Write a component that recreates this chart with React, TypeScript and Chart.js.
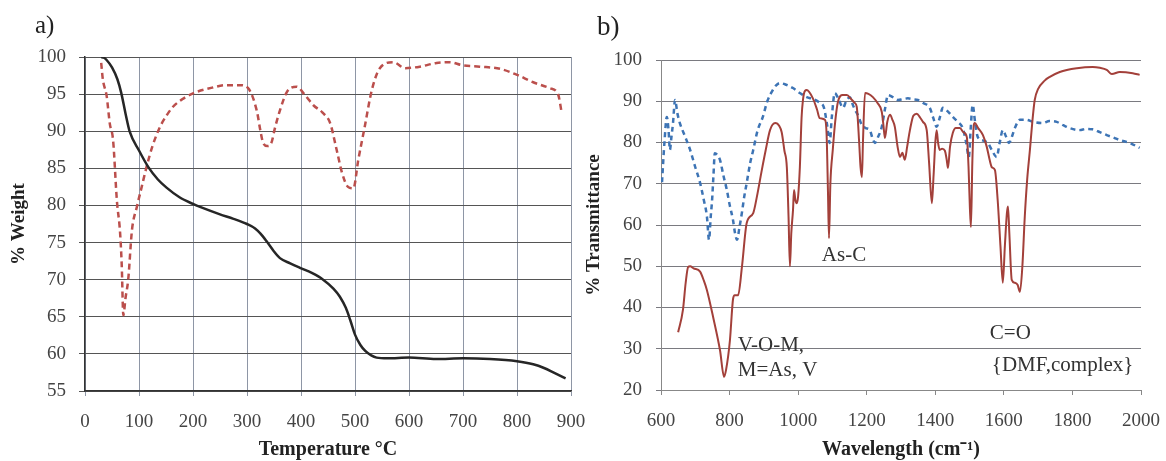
import React, { useEffect, useRef } from "react";
import { Chart, registerables } from "chart.js";
Chart.register(...registerables);

// ---------- Data: panel a) TGA ----------
const tempTicks = [0, 100, 200, 300, 400, 500, 600, 700, 800, 900];
const weightTicks = [55, 60, 65, 70, 75, 80, 85, 90, 95, 100];

const tgaTemp = [30, 35, 40, 50, 60, 67, 75, 83, 100, 117, 135, 151, 175, 200, 213, 250, 275, 300, 315, 325, 337, 350, 361, 380, 398, 420, 441, 460, 472, 483, 491, 500, 510, 519, 530, 540, 560, 600, 650, 700, 750, 800, 830, 850, 870, 890];
const tgaWeight = [100, 99.9, 99.6, 98.6, 97, 95.2, 92.4, 89.9, 87.4, 85.2, 83.5, 82.4, 81.1, 80.2, 79.8, 78.8, 78.2, 77.5, 76.9, 76.2, 75.1, 73.8, 72.9, 72.2, 71.6, 70.9, 70, 68.8, 67.7, 66.2, 64.6, 62.6, 61.2, 60.4, 59.8, 59.5, 59.4, 59.5, 59.3, 59.4, 59.3, 59.0, 58.6, 58.1, 57.4, 56.7];

const dtgTemp = [30, 33, 40, 46, 52, 59, 65, 68, 71, 75, 80, 87, 96, 105, 114, 125, 139, 150, 163, 180, 200, 237, 260, 287, 302, 318, 325, 330, 338, 345, 352, 361, 374, 392, 407, 423, 440, 454, 466, 476, 487, 497, 506, 518, 531, 546, 571, 593, 620, 651, 676, 698, 731, 769, 800, 830, 861, 876, 883];
const dtgValue = [99.2, 97, 94.8, 91, 88.8, 80.7, 76.3, 72, 65.2, 67.5, 70, 76.7, 79.8, 82.5, 85.2, 88, 90.6, 92, 93.3, 94.3, 95.1, 95.9, 96.2, 96.2, 95.8, 92.8, 90, 88.4, 88, 88.4, 90.5, 92.8, 95.3, 96, 94.9, 93.5, 92.5, 91.1, 87.5, 84.4, 82.5, 82.3, 86.1, 90.6, 95.5, 98.5, 99.3, 98.5, 98.7, 99.2, 99.3, 98.9, 98.7, 98.4, 97.6, 96.6, 95.8, 95, 92.4];

// ---------- Data: panel b) IR ----------
const wnTicks = [600, 800, 1000, 1200, 1400, 1600, 1800, 2000];
const transTicks = [20, 30, 40, 50, 60, 70, 80, 90, 100];

const irSampleWn = [650, 664, 672, 679, 685, 695, 714, 725, 734, 752, 772, 784, 790, 801, 810, 815, 825, 836, 850, 869, 880, 894, 905, 918, 933, 945, 952, 960, 967, 972, 976, 980, 985, 988, 992, 996, 1000, 1005, 1010, 1014, 1020, 1025, 1043, 1055, 1063, 1078, 1083, 1087, 1090, 1094, 1101, 1108, 1116, 1130, 1142, 1155, 1165, 1171, 1178, 1182, 1186, 1189, 1195, 1205, 1218, 1232, 1244, 1249, 1253, 1260, 1268, 1275, 1282, 1290, 1297, 1304, 1311, 1318, 1326, 1336, 1346, 1356, 1364, 1375, 1382, 1390, 1395, 1400, 1404, 1408, 1413, 1420, 1428, 1433, 1437, 1443, 1451, 1460, 1472, 1482, 1492, 1497, 1501, 1504, 1508, 1512, 1515, 1525, 1539, 1550, 1558, 1565, 1574, 1582, 1590, 1597, 1603, 1609, 1612, 1616, 1623, 1632, 1640, 1647, 1654, 1661, 1668, 1676, 1683, 1690, 1700, 1719, 1734, 1763, 1813, 1859, 1880, 1900, 1915, 1938, 1976, 1996];
const irSampleT = [34, 39.4, 46, 49.8, 50, 49.5, 48.7, 46.5, 44.2, 37.7, 29.7, 23.2, 25, 32, 42, 43, 43, 49.8, 60.5, 62.9, 67, 73.3, 78, 83, 84.7, 84, 82.5, 78, 74, 62, 50, 58, 63.6, 68.5, 66, 65.3, 67, 74, 86, 90.3, 92.5, 92.7, 90.7, 88, 85.9, 85.5, 82, 68, 56.8, 70, 78.2, 85, 89.8, 91.5, 91.5, 90.5, 89.6, 88.6, 80, 74, 71.6, 80, 92, 91.8, 91, 89.5, 87.4, 84, 81.1, 85, 86.7, 85.5, 83.8, 79, 76.5, 77.5, 75.8, 79, 83, 86.5, 87, 86, 85, 83, 75, 65.3, 72, 80, 83, 80, 78.2, 78.5, 78, 76, 73.8, 79, 82.3, 83.5, 83.5, 82.5, 81.3, 74, 64, 59.5, 75, 84, 84.7, 83.5, 81.8, 79, 76, 74, 73.3, 66, 55, 46, 55, 63, 64.5, 58, 46.7, 46, 45.5, 43.8, 50, 62, 71, 78.2, 85, 90.3, 93, 95, 95.9, 97.1, 98, 98.3, 98.1, 97.6, 96.6, 97.1, 96.8, 96.4];

const irRefWn = [603, 610, 617, 622, 626, 630, 635, 641, 648, 655, 670, 685, 700, 714, 725, 734, 740, 745, 749, 753, 757, 764, 772, 782, 792, 800, 810, 816, 822, 828, 836, 843, 850, 860, 869, 882, 897, 910, 926, 935, 947, 965, 985, 1005, 1025, 1045, 1063, 1075, 1085, 1092, 1098, 1107, 1118, 1131, 1140, 1151, 1160, 1166, 1174, 1186, 1197, 1209, 1217, 1224, 1234, 1244, 1253, 1262, 1276, 1291, 1305, 1320, 1335, 1349, 1366, 1384, 1394, 1404, 1413, 1422, 1437, 1451, 1466, 1480, 1490, 1498, 1503, 1509, 1516, 1524, 1538, 1553, 1566, 1579, 1588, 1597, 1606, 1615, 1624, 1632, 1647, 1665, 1685, 1713, 1733, 1754, 1773, 1792, 1821, 1840, 1859, 1880, 1900, 1920, 1938, 1967, 1996];
const irRefT = [70.4, 80, 86.2, 83, 78.2, 81, 84.7, 90.3, 87, 84.7, 81.5, 78.2, 74, 70.2, 66, 62, 56.4, 62, 66, 72, 77.4, 77, 75.8, 72, 68.5, 65, 61.2, 58, 56.4, 59, 63, 67, 70.2, 75, 78.2, 83, 86.2, 90, 92.7, 93.8, 94.4, 94, 93.2, 92, 91, 90.5, 89.6, 88.5, 84, 79.9, 86, 92, 90.5, 88.4, 90, 91, 89, 87.9, 86.7, 84.2, 83.5, 83, 81, 79.9, 81.5, 83.8, 88, 91.5, 91, 90.3, 90.5, 90.7, 90.5, 90.3, 89.5, 88.4, 86, 83.8, 86, 88.4, 87.5, 86.2, 85, 83.5, 80, 76.5, 83, 89.1, 85, 81.3, 80.5, 79.9, 78, 76.5, 80, 83, 81.5, 79.9, 81.5, 83.5, 85.5, 85.5, 85, 84.7, 85.2, 85, 84.2, 83.5, 83, 83.3, 83.2, 82.5, 81.8, 81.2, 80.6, 79.9, 78.7];

const irLabelText = ["As-C", "V-O-M,", "M=As, V", "C=O", "{DMF,complex}"];
const irLabelWn = [1069, 824, 824, 1559, 1565];
const irLabelT = [52.7, 30.9, 24.8, 33.8, 26];

// ---------- helpers ----------
const SERIF = "'Liberation Serif', 'Times New Roman', serif";

const pts = (xs: number[], ys: number[]) => xs.map((x, i) => ({ x, y: ys[i] }));
const fixedTicks = (vals: number[]) => (scale: any) => {
  scale.ticks = vals.map((v) => ({ value: v }));
};
const plainLabel = (v: any) => String(v);

const irLabelPlugin = {
  id: "irLabels",
  afterDatasetsDraw(chart: any) {
    const { ctx, scales } = chart;
    ctx.save();
    ctx.font = `21px ${SERIF}`;
    ctx.fillStyle = "#333";
    ctx.textAlign = "left";
    ctx.textBaseline = "middle";
    irLabelText.forEach((t, i) => {
      ctx.fillText(t, scales.x.getPixelForValue(irLabelWn[i]), scales.y.getPixelForValue(irLabelT[i]));
    });
    ctx.restore();
  },
};

// x tick labels: small padding (so label padding does not shrink the plot),
// vertical placement via tall line height
const xTickOpts = {
  font: { family: SERIF, size: 19, lineHeight: 2.5 },
  color: "#444",
  padding: 2,
  maxRotation: 0,
  autoSkip: false,
  callback: plainLabel,
};

function configA(): any {
  return {
    type: "line",
    data: {
      datasets: [
        {
          data: pts(tgaTemp, tgaWeight),
          borderColor: "#262626",
          borderWidth: 2.5,
          pointRadius: 0,
          cubicInterpolationMode: "monotone",
          fill: false,
        },
        {
          data: pts(dtgTemp, dtgValue),
          borderColor: "#bb4f4c",
          borderWidth: 2.5,
          borderDash: [6, 4],
          pointRadius: 0,
          cubicInterpolationMode: "monotone",
          fill: false,
        },
      ],
    },
    options: {
      responsive: false,
      animation: false,
      layout: { padding: { left: 0, top: 57, right: 29, bottom: 0 } },
      plugins: { legend: { display: false }, tooltip: { enabled: false } },
      scales: {
        x: {
          type: "linear",
          min: 0,
          max: 900,
          afterBuildTicks: fixedTicks(tempTicks),
          afterFit: (s: any) => {
            s.height = 70;
          },
          grid: { color: "#8e96a6", lineWidth: 1, tickLength: 5 },
          border: { color: "#333", width: 1.5 },
          ticks: xTickOpts,
          title: {
            display: true,
            text: "Temperature °C",
            font: { family: SERIF, size: 20, weight: "bold", lineHeight: 1.1 },
            color: "#222",
            padding: 0,
          },
        },
        y: {
          min: 55,
          max: 100,
          afterBuildTicks: fixedTicks(weightTicks),
          afterFit: (s: any) => {
            s.width = 85;
          },
          grid: { color: "#555", lineWidth: 1, tickLength: 6 },
          border: { color: "#333", width: 1.5 },
          ticks: { font: { family: SERIF, size: 19 }, color: "#444", padding: 13, callback: plainLabel },
          title: {
            display: true,
            text: "% Weight",
            font: { family: SERIF, size: 19, weight: "bold" },
            color: "#222",
            padding: { top: 8, bottom: 0 },
          },
        },
      },
    },
  };
}

function configB(): any {
  return {
    type: "line",
    data: {
      datasets: [
        {
          data: pts(irSampleWn, irSampleT),
          borderColor: "#a3403a",
          borderWidth: 2,
          pointRadius: 0,
          cubicInterpolationMode: "monotone",
          fill: false,
        },
        {
          data: pts(irRefWn, irRefT),
          borderColor: "#3d74b5",
          borderWidth: 2.5,
          borderDash: [5, 4],
          pointRadius: 0,
          cubicInterpolationMode: "monotone",
          fill: false,
        },
      ],
    },
    plugins: [irLabelPlugin],
    options: {
      responsive: false,
      animation: false,
      layout: { padding: { left: 0, top: 60, right: 25, bottom: 0 } },
      plugins: { legend: { display: false }, tooltip: { enabled: false } },
      scales: {
        x: {
          type: "linear",
          min: 600,
          max: 2000,
          afterBuildTicks: fixedTicks(wnTicks),
          afterFit: (s: any) => {
            s.height = 71;
          },
          grid: { color: "#888", lineWidth: 1, tickLength: 5, drawOnChartArea: false },
          border: { color: "#888", width: 1 },
          ticks: xTickOpts,
          title: {
            display: true,
            text: "Wavelength (cm⁻¹)",
            font: { family: SERIF, size: 20, weight: "bold", lineHeight: 1.1 },
            color: "#222",
            padding: 0,
          },
        },
        y: {
          min: 20,
          max: 100,
          afterBuildTicks: fixedTicks(transTicks),
          afterFit: (s: any) => {
            s.width = 81;
          },
          grid: { color: "#7a7a80", lineWidth: 1, tickLength: 5 },
          border: { color: "#888", width: 1 },
          ticks: { font: { family: SERIF, size: 19 }, color: "#444", padding: 14, callback: plainLabel },
          title: {
            display: true,
            text: "% Transmittance",
            font: { family: SERIF, size: 19, weight: "bold" },
            color: "#222",
            padding: { top: 3, bottom: 0 },
          },
        },
      },
    },
  };
}

export default function App() {
  const refA = useRef<HTMLCanvasElement>(null);
  const refB = useRef<HTMLCanvasElement>(null);

  useEffect(() => {
    const a = new Chart(refA.current as HTMLCanvasElement, configA());
    const b = new Chart(refB.current as HTMLCanvasElement, configB());
    return () => {
      a.destroy();
      b.destroy();
    };
  }, []);

  return (
    <div
      style={{
        position: "absolute",
        left: 0,
        top: 0,
        width: 1166,
        height: 461,
        background: "#fff",
        overflow: "hidden",
      }}
    >
      <canvas ref={refA} width={600} height={461} style={{ position: "absolute", left: 0, top: 0 }} />
      <canvas ref={refB} width={586} height={461} style={{ position: "absolute", left: 580, top: 0 }} />
      <div style={{ position: "absolute", left: 35, top: 12, font: `25px ${SERIF}`, lineHeight: 1, color: "#222" }}>a)</div>
      <div style={{ position: "absolute", left: 597, top: 13, font: `27px ${SERIF}`, lineHeight: 1, color: "#222" }}>b)</div>
    </div>
  );
}
